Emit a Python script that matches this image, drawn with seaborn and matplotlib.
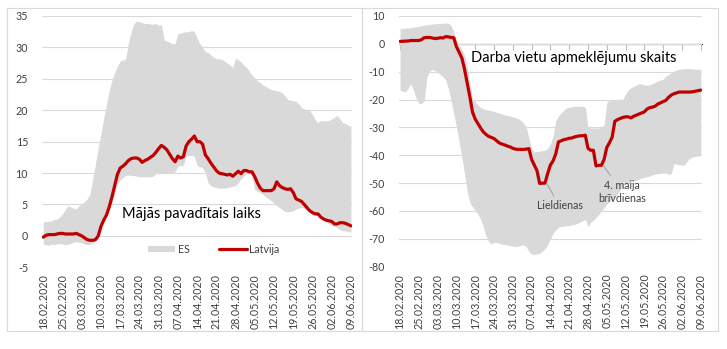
import numpy as np
import pandas as pd
import matplotlib
matplotlib.use("Agg")
import matplotlib.pyplot as plt
from matplotlib.patches import Rectangle, Patch
from matplotlib.lines import Line2D
import seaborn as sns

# ---------------- data ----------------
dates = pd.date_range("2020-02-18", "2020-06-09", freq="D")

home_es_max = [
    2.2, 2.3, 2.3, 2.4, 2.6, 2.7, 3.0, 3.5, 4.2, 4.8,
    4.6, 4.4, 4.3, 4.8, 5.1, 5.4, 5.9, 6.7, 9.0, 11.5,
    14.0, 16.3, 18.7, 21.0, 23.0, 24.8, 26.0, 27.0, 27.8, 28.0,
    28.2, 30.7, 32.5, 33.8, 34.2, 34.1, 33.9, 33.8, 33.8, 33.7,
    33.7, 33.8, 33.5, 33.6, 31.2, 31.0, 30.8, 30.6, 30.6, 32.2,
    32.3, 32.4, 32.5, 32.5, 32.7, 32.5, 31.5, 30.6, 30.0, 29.3,
    29.2, 28.8, 28.4, 28.2, 28.2, 28.1, 27.8, 27.5, 27.2, 26.8,
    28.3, 28.0, 27.7, 27.2, 26.8, 26.2, 25.6, 25.1, 24.7, 24.4,
    24.0, 23.8, 23.5, 23.3, 23.2, 23.1, 23.0, 22.8, 22.3, 21.7,
    21.6, 21.5, 21.4, 21.0, 20.4, 20.2, 20.1, 19.9, 19.3, 18.5,
    18.0, 18.4, 18.3, 18.3, 18.4, 18.6, 18.9, 19.2, 18.6, 18.0,
    17.9, 17.6, 17.5,
]
home_es_min = [
    -1.3, -1.4, -1.5, -1.3, -1.4, -1.3, -1.2, -1.3, -1.4, -1.3,
    -1.2, -1.0, -0.9, -1.0, -1.1, -1.3, -1.4, -1.3, -1.2, -0.8,
    -0.1, 1.5, 2.7, 3.5, 4.3, 5.5, 6.8, 8.2, 8.9, 9.3,
    9.6, 9.7, 9.6, 9.6, 9.5, 9.4, 9.4, 9.4, 9.4, 9.4,
    9.5, 9.9, 10.0, 10.0, 10.0, 10.0, 10.0, 10.0, 10.2, 11.1,
    11.2, 11.2, 12.8, 12.8, 12.8, 12.7, 11.2, 11.0, 10.9, 10.0,
    8.5, 8.0, 7.8, 7.7, 7.6, 7.6, 7.6, 7.7, 7.8, 7.9,
    8.0, 8.5, 9.1, 9.5, 9.9, 10.0, 9.6, 7.3, 7.1, 6.9,
    6.6, 6.2, 5.9, 5.6, 5.2, 4.8, 4.5, 4.2, 3.9, 3.8,
    3.9, 4.0, 4.3, 4.4, 4.6, 4.3, 4.1, 3.9, 3.6, 3.3,
    3.2, 2.9, 2.5, 2.2, 2.0, 1.7, 1.5, 1.3, 1.0, 0.8,
    0.8, 0.7, 0.6,
]
home_lv = [
    -0.2, 0.1, 0.2, 0.2, 0.2, 0.3, 0.4, 0.4, 0.3, 0.3,
    0.3, 0.3, 0.4, 0.2, 0.0, -0.3, -0.6, -0.7, -0.7, -0.6,
    0.0, 1.5, 2.5, 3.3, 4.6, 6.2, 8.0, 9.8, 10.8, 11.1,
    11.5, 12.0, 12.3, 12.4, 12.4, 12.2, 11.7, 12.0, 12.2, 12.5,
    12.8, 13.3, 13.9, 14.4, 14.1, 13.7, 13.0, 12.3, 11.8, 12.7,
    12.4, 12.6, 14.3, 15.0, 15.4, 15.9, 15.0, 15.0, 14.6, 12.9,
    12.3, 11.6, 11.0, 10.4, 10.0, 9.9, 9.8, 9.7, 9.8, 9.5,
    9.9, 10.3, 9.9, 10.4, 10.4, 10.2, 10.2, 9.4, 8.4, 7.6,
    7.2, 7.2, 7.2, 7.2, 7.5, 8.6, 8.0, 7.7, 7.5, 7.4,
    7.5, 6.9, 5.9, 5.7, 5.5, 5.0, 4.5, 4.0, 3.7, 3.5,
    3.5, 3.0, 2.7, 2.5, 2.4, 2.3, 1.9, 1.9, 2.1, 2.1,
    2.0, 1.8, 1.6,
]

work_es_max = [
    5.4, 5.5, 5.6, 5.7, 5.8, 5.9, 6.1, 6.3, 6.5, 6.7,
    6.8, 7.0, 7.1, 7.2, 7.3, 7.3, 7.4, 7.5, 7.4, 6.6,
    4.5, 1.3, -0.5, -2.0, -4.0, -8.0, -14.0, -19.5, -20.8, -22.0,
    -22.8, -23.3, -23.6, -23.8, -24.0, -24.3, -24.6, -24.9, -25.2, -25.5,
    -25.7, -25.9, -26.2, -26.5, -26.8, -27.5, -28.5, -29.8, -34.0, -37.5,
    -38.8, -38.7, -38.5, -38.3, -38.2, -37.5, -36.0, -33.0, -27.5, -26.0,
    -24.8, -23.8, -23.0, -22.7, -22.6, -22.5, -22.4, -22.4, -22.5, -22.7,
    -30.0, -30.2, -30.2, -30.2, -30.2, -30.0, -29.2, -21.0, -20.2, -20.1,
    -20.0, -20.0, -19.9, -19.9, -18.0, -16.5, -15.8, -15.3, -14.8, -14.4,
    -14.4, -14.8, -14.9, -14.6, -14.3, -13.8, -13.3, -13.0, -12.7, -11.5,
    -11.0, -10.4, -9.8, -9.4, -9.1, -9.0, -8.9, -8.9, -8.9, -9.0,
    -9.1, -9.1, -9.2,
]
work_es_min = [
    -16.7, -17.0, -17.3, -16.0, -14.3, -16.5, -19.5, -21.4, -21.4, -20.5,
    -11.9, -9.8, -9.2, -9.6, -10.3, -11.0, -11.8, -13.0, -16.0, -20.3,
    -25.0, -29.8, -35.0, -40.6, -46.5, -53.0, -57.0, -58.5, -59.8, -61.2,
    -63.0, -65.5, -69.0, -71.0, -71.8, -71.2, -71.3, -71.6, -71.9, -72.0,
    -72.2, -72.4, -72.6, -72.8, -72.6, -72.3, -72.2, -72.8, -74.5, -75.5,
    -75.5, -75.4, -75.2, -74.5, -73.5, -72.0, -70.0, -68.0, -66.8, -65.8,
    -65.6, -65.4, -65.3, -65.2, -65.0, -64.8, -64.5, -64.0, -63.5, -63.0,
    -65.6, -64.0, -63.3, -62.3, -61.2, -60.0, -58.8, -57.5, -56.5, -55.7,
    -55.0, -54.0, -52.5, -51.0, -50.3, -50.0, -49.6, -49.2, -49.0, -48.5,
    -48.2, -47.9, -47.7, -47.4, -47.0, -46.8, -46.6, -46.5, -46.4, -46.4,
    -46.8, -46.6, -43.0, -43.2, -43.4, -43.5, -43.4, -42.0, -41.0, -40.6,
    -40.4, -40.2, -40.0,
]
work_lv = [
    0.9, 0.9, 1.0, 1.0, 1.2, 1.2, 1.2, 1.2, 1.5, 2.2,
    2.3, 2.3, 2.1, 1.9, 2.0, 2.2, 2.1, 2.6, 2.5, 2.3,
    2.2, -1.0, -3.0, -5.0, -9.0, -14.0, -19.0, -24.5, -27.0, -28.6,
    -30.2, -31.6, -32.5, -33.2, -33.6, -34.0, -34.8, -35.6, -36.0, -36.3,
    -36.7, -37.0, -37.5, -37.8, -37.9, -37.9, -37.9, -37.8, -37.6, -41.5,
    -43.5, -45.5, -50.1, -50.0, -50.0, -46.5, -43.5, -42.0, -39.5, -35.2,
    -34.8, -34.4, -34.2, -33.9, -33.8, -33.4, -33.2, -33.0, -33.0, -32.8,
    -37.5, -38.2, -38.2, -43.8, -43.6, -43.6, -41.5, -37.2, -35.5, -33.5,
    -27.8, -27.2, -26.8, -26.4, -26.2, -26.2, -26.6, -26.0, -25.6, -25.2,
    -24.8, -24.4, -23.4, -22.9, -22.7, -22.4, -21.6, -21.2, -20.7, -20.3,
    -19.2, -18.4, -17.9, -17.6, -17.3, -17.3, -17.3, -17.3, -17.3, -17.2,
    -17.0, -16.8, -16.6,
]

tick_step = 7
tick_labels = [d.strftime("%d.%m.%Y") for d in dates[::tick_step]]

title_left = "Mājās pavadītais laiks"
title_right = "Darba vietu apmeklējumu skaits"
legend_labels = ["ES", "Latvija"]
ann_easter = "Lieldienas"
ann_may = "4. maija\nbrīvdienas"

# ---------------- style ----------------
sns.set_style("white")
plt.rcParams["font.family"] = ["Lato", "DejaVu Sans"]
plt.rcParams["axes.unicode_minus"] = False

RED = "#c00000"
BAND = "#d9d9d9"
GRID = "#d9d9d9"
TXT = "#404040"
FS = 7.7

W, H = 727, 349
fig = plt.figure(figsize=(W / 100, H / 100), dpi=100)
fig.patch.set_facecolor("white")

def px_rect(x0, y0, x1, y1):
    return [x0 / W, 1 - y1 / H, (x1 - x0) / W, (y1 - y0) / H]

# panel frames
for (x0, y0, x1, y1) in [(7, 8, 362, 331), (362, 8, 718, 331)]:
    r = px_rect(x0, y0, x1, y1)
    fig.add_artist(Rectangle((r[0], r[1]), r[2], r[3], transform=fig.transFigure,
                             fill=False, ec="#d9d9d9", lw=0.8))

ax1 = fig.add_axes(px_rect(41.9, 16.0, 352.3, 267.3))
ax2 = fig.add_axes(px_rect(398.7, 16.0, 702.1, 266.7))

days = np.arange(len(dates))
df_home = pd.DataFrame({"day": days, "lv": home_lv, "lo": home_es_min, "hi": home_es_max})
df_work = pd.DataFrame({"day": days, "lv": work_lv, "lo": work_es_min, "hi": work_es_max})


def style_axis(ax, ylim, ystep):
    ax.set_xlim(-0.5, len(dates) - 0.5)
    ax.set_ylim(*ylim)
    ax.set_yticks(np.arange(ylim[0], ylim[1] + 0.01, ystep))
    for s in ax.spines.values():
        s.set_visible(False)
    ax.yaxis.grid(True, color=GRID, lw=0.8)
    ax.xaxis.grid(False)
    ax.set_axisbelow(True)
    ax.set_xticks(days[::tick_step])
    ax.set_xticklabels(tick_labels, rotation=90, fontsize=FS, color=TXT)
    ax.tick_params(axis="x", length=0, pad=5)
    ax.tick_params(axis="y", length=0, pad=10, labelsize=FS, labelcolor=TXT)
    ax.set_xlabel("")
    ax.set_ylabel("")


# left panel
ax1.fill_between(df_home["day"], df_home["lo"], df_home["hi"], color=BAND, lw=0, zorder=1)
sns.lineplot(data=df_home, x="day", y="lv", ax=ax1, color=RED, lw=2.3, zorder=3, legend=False)
style_axis(ax1, (-5, 35), 5)
ax1.text(0.259, 0.211, title_left, transform=ax1.transAxes, fontsize=10.5,
         color="#000000", ha="left", va="center")
handles = [Patch(facecolor=BAND, edgecolor="none"), Line2D([], [], color=RED, lw=2.3)]
ax1.legend(handles, legend_labels, loc="center", bbox_to_anchor=(0.553, 0.072), ncol=2,
           frameon=False, fontsize=FS, handlelength=2.6, handleheight=0.5,
           handletextpad=0.2, columnspacing=2.8, labelcolor=TXT)

# right panel
ax2.fill_between(df_work["day"], df_work["lo"], df_work["hi"], color=BAND, lw=0, zorder=1)
sns.lineplot(data=df_work, x="day", y="lv", ax=ax2, color=RED, lw=2.3, zorder=3, legend=False)
style_axis(ax2, (-80, 10), 10)
ax2.text(0.237, 0.8325, title_right, transform=ax2.transAxes, fontsize=10.5,
         color="#000000", ha="left", va="center")
# horizontal axis line at zero with tick marks
zero_frac = (0 - (-80)) / 90
sec = ax2.secondary_xaxis(zero_frac)
sec.set_xticks(days[::tick_step])
sec.tick_params(axis="x", direction="out", length=4, color="#bfbfbf", labelbottom=False,
                labeltop=False, width=0.8)
sec.spines["bottom"].set_color("#bfbfbf")
sec.spines["bottom"].set_linewidth(0.8)
sec.xaxis.set_ticks_position("bottom")
sec.set_xticklabels([])

ax2.annotate(ann_easter, xy=(54.6, -50.1), xytext=(59.4, -58.2), fontsize=FS, color=TXT,
             ha="center", va="center",
             arrowprops=dict(arrowstyle="-", color="#a6a6a6", lw=0.8, shrinkA=1, shrinkB=0))
ax2.annotate(ann_may, xy=(75.7, -43.7), xytext=(82.7, -53.2), fontsize=FS, color=TXT,
             ha="center", va="center", linespacing=1.25,
             arrowprops=dict(arrowstyle="-", color="#a6a6a6", lw=0.8, shrinkA=1, shrinkB=0))

fig.savefig("out.png", dpi=100, facecolor="white")
